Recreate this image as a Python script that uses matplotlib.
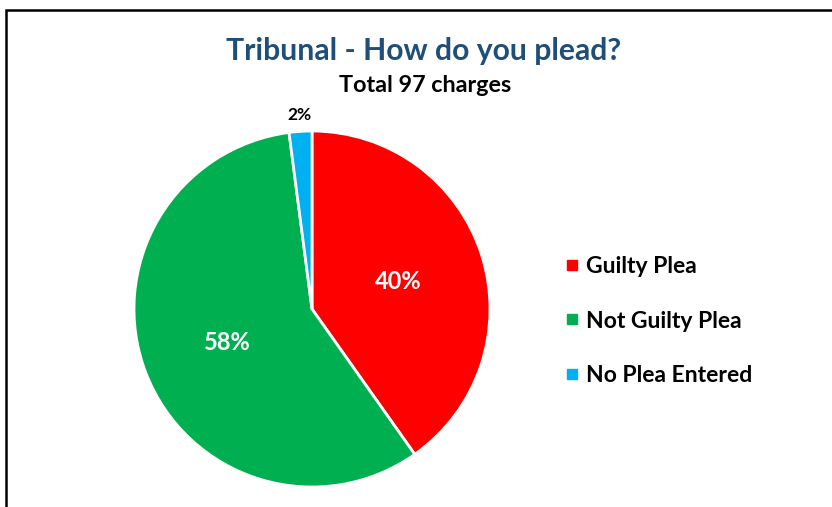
import matplotlib.pyplot as plt
from matplotlib.patches import Rectangle
from matplotlib.lines import Line2D
import numpy as np

plt.rcParams['font.family'] = ['Lato', 'DejaVu Sans']

categories = ['Guilty Plea', 'Not Guilty Plea', 'No Plea Entered']
counts = [39, 56, 2]
colors = ['#FF0000', '#00B050', '#00B0F0']
title = 'Tribunal - How do you plead?'
subtitle = 'Total 97 charges'

W, H = 832, 507
fig = plt.figure(figsize=(W / 100, H / 100), dpi=100)

# chart border (only top and left visible in the crop)
fig.patches.append(Rectangle((6 / W, -0.1), 1.2, (H - 10) / H + 0.1, transform=fig.transFigure,
                             fill=False, edgecolor='black', linewidth=1.8))

# pie axes placed in pixel units
cx, cy, r = 312, 309, 178
ax = fig.add_axes([(cx - r) / W, (H - cy - r) / H, 2 * r / W, 2 * r / H])
ax.axis('off')

wedges, texts, autotexts = ax.pie(counts, colors=colors, startangle=90, counterclock=False,
                                  autopct='%.0f%%', pctdistance=0.51, radius=1,
                                  wedgeprops=dict(edgecolor='white', linewidth=2),
                                  textprops=dict(color='white', fontsize=17, fontweight='bold'))
ax.set_xlim(-1, 1)
ax.set_ylim(-1, 1)

# small slice label goes outside
w = wedges[2]
mid = np.deg2rad((w.theta1 + w.theta2) / 2)
autotexts[2].set_position((1.09 * np.cos(mid), 1.09 * np.sin(mid)))
autotexts[2].set_color('black')
autotexts[2].set_fontsize(12.5)

fig.text(424 / W, 1 - 51 / H, title, ha='center', va='center', fontsize=21.7,
         fontweight='bold', color='#1F4E79')
fig.text(425 / W, 1 - 86 / H, subtitle, ha='center', va='center', fontsize=16.8,
         fontweight='bold', color='black')

handles = [Line2D([], [], marker='s', linestyle='', markersize=7.5, color=c) for c in colors]
fig.legend(handles, categories, loc='center left', bbox_to_anchor=(542 / W, 1 - 321 / H),
           frameon=False, prop=dict(weight='bold', size=16.5), labelspacing=1.48,
           handletextpad=0.2, handlelength=0.8)

fig.savefig('out.png', dpi=100)
